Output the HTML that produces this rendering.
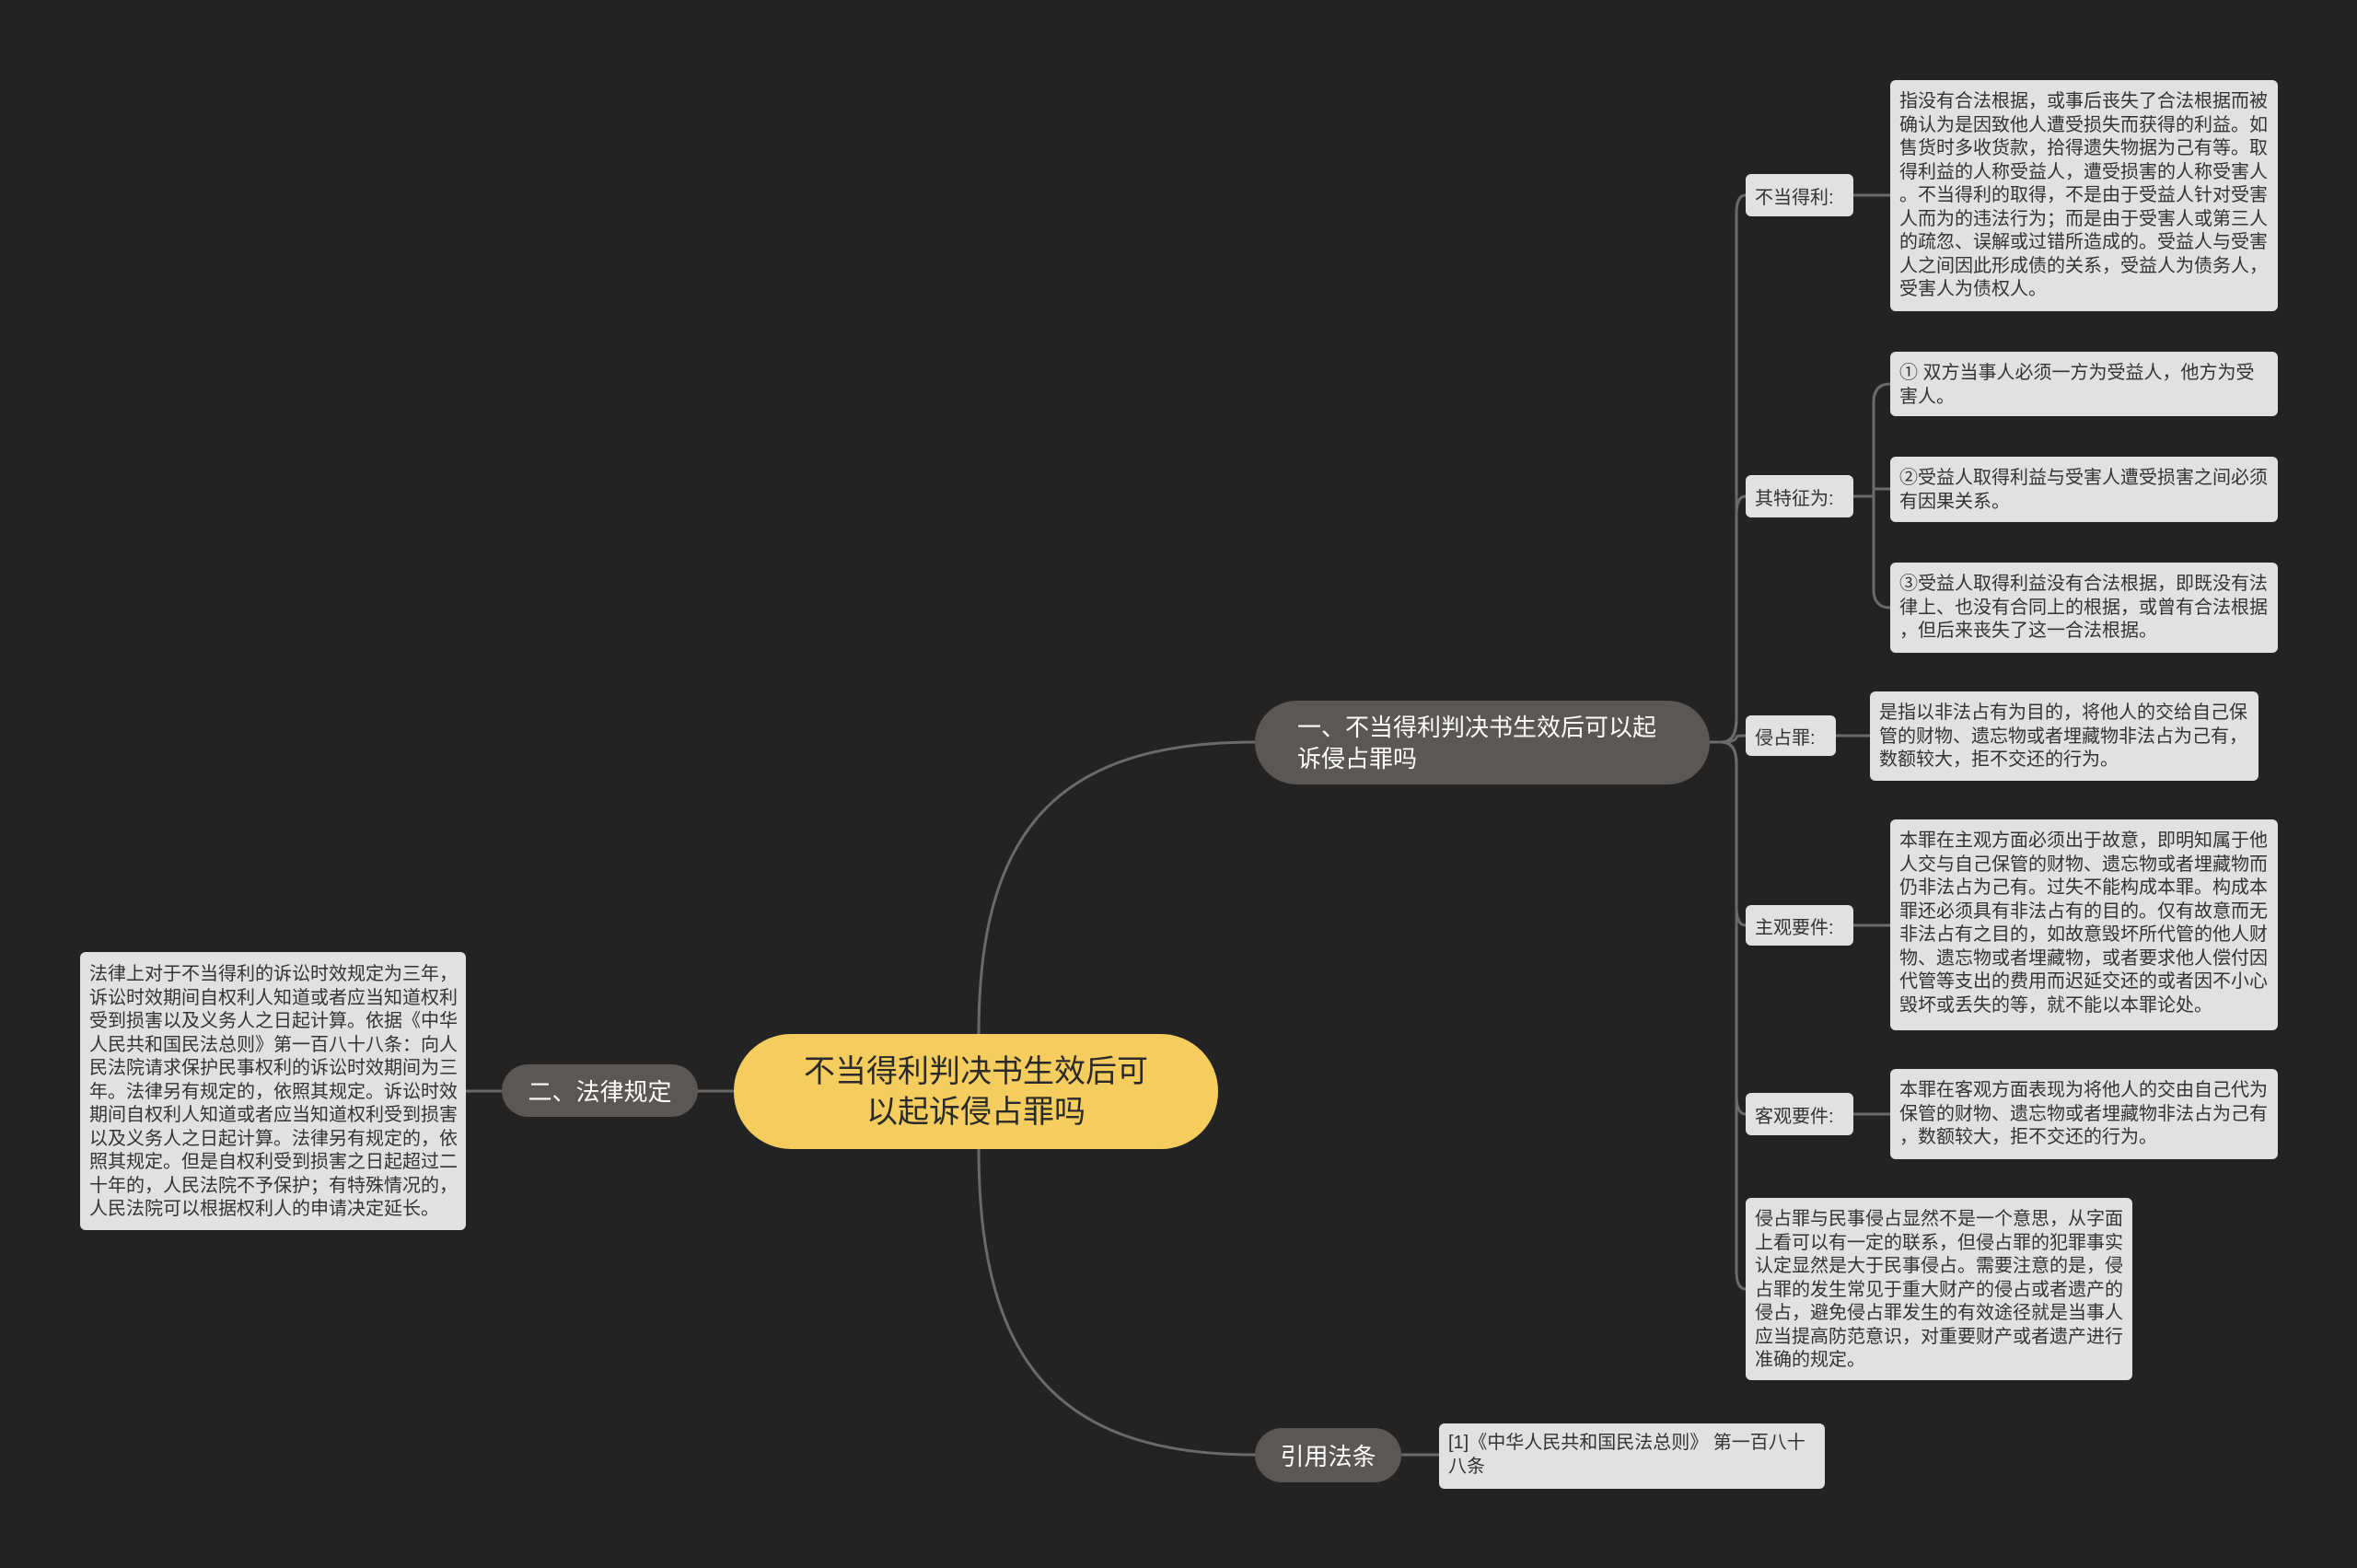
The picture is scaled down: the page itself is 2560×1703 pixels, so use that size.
<!DOCTYPE html>
<html><head><meta charset="utf-8"><style>
body{margin:0;width:2560px;height:1703px;background:#232323;position:relative;overflow:hidden;font-family:"Liberation Sans","Noto Sans CJK SC",sans-serif;}
.b{position:absolute;box-sizing:border-box;}
.leaf{background:#e1e1e1;color:#333;font-size:20px;line-height:25.5px;border-radius:6px;padding:11px 10px 9px;white-space:pre;letter-spacing:0}
.lab{background:#e1e1e1;color:#333;font-size:20px;border-radius:6px;display:flex;align-items:center;padding-left:10px}
.br{background:#5a5754;color:#fff;font-size:26px;border-radius:46px;display:flex;align-items:center}
</style></head><body>
<svg class="b" style="left:0;top:0" width="2560" height="1703">
<g fill="none" stroke="#6a6a6a" stroke-width="3">
<path d="M1063,1123 C1063,900 1150,806 1363,806"/>
<path d="M1063,1248 C1063,1480 1150,1580 1363,1580"/>
<path d="M797,1185 L758,1185"/>
<path d="M545,1185 L506,1185"/>
<path d="M1857,806 L1870,806"/>
<path d="M1870,806 Q1886,806 1886,780 L1886,232 Q1886,212 1896,212"/>
<path d="M1870,806 Q1886,806 1886,780 L1886,559 Q1886,539 1896,539"/>
<path d="M1870,806 Q1886,806 1886,800 Q1886,799 1896,799"/>
<path d="M1870,806 Q1886,806 1886,830 L1886,985 Q1886,1005 1896,1005"/>
<path d="M1870,806 Q1886,806 1886,830 L1886,1190 Q1886,1210 1896,1210"/>
<path d="M1870,806 Q1886,806 1886,830 L1886,1380 Q1886,1400 1896,1400"/>
<path d="M2013,212 L2053,212"/>
<path d="M2013,539 L2035,539"/>
<path d="M2035,539 L2035,437 Q2035,417 2053,417"/>
<path d="M2035,539 L2035,531 Q2035,531 2053,531"/>
<path d="M2035,539 L2035,640 Q2035,660 2053,660"/>
<path d="M1994,799 L2031,799"/>
<path d="M2013,1005 L2053,1005"/>
<path d="M2013,1210 L2053,1210"/>
<path d="M1522,1580 L1563,1580"/>
</g></svg>

<div class="b" style="left:797px;top:1123px;width:526px;height:125px;background:#f5cd5e;border-radius:62px;color:#2a2a2a;font-size:34px;line-height:44px;display:flex;align-items:center;justify-content:center;text-align:center">不当得利判决书生效后可<br>以起诉侵占罪吗</div>

<div class="b br" style="left:1363px;top:761px;width:494px;height:91px;padding-left:46px;line-height:34px">一、不当得利判决书生效后可以起<br>诉侵占罪吗</div>
<div class="b br" style="left:545px;top:1156px;width:213px;height:57px;justify-content:center">二、法律规定</div>
<div class="b br" style="left:1363px;top:1551px;width:159px;height:59px;justify-content:center">引用法条</div>

<div class="b leaf" style="left:87px;top:1034px;width:419px;height:302px;padding-top:12px">法律上对于不当得利的诉讼时效规定为三年，
诉讼时效期间自权利人知道或者应当知道权利
受到损害以及义务人之日起计算。依据《中华
人民共和国民法总则》第一百八十八条：向人
民法院请求保护民事权利的诉讼时效期间为三
年。法律另有规定的，依照其规定。诉讼时效
期间自权利人知道或者应当知道权利受到损害
以及义务人之日起计算。法律另有规定的，依
照其规定。但是自权利受到损害之日起超过二
十年的，人民法院不予保护；有特殊情况的，
人民法院可以根据权利人的申请决定延长。</div>

<div class="b leaf" style="left:1563px;top:1546px;width:419px;height:71px;padding-top:9px">[1]《中华人民共和国民法总则》 第一百八十
八条</div>

<div class="b lab" style="left:1896px;top:189px;width:117px;height:46px">不当得利:</div>
<div class="b lab" style="left:1896px;top:516px;width:117px;height:46px">其特征为:</div>
<div class="b lab" style="left:1896px;top:777px;width:98px;height:44px">侵占罪:</div>
<div class="b lab" style="left:1896px;top:983px;width:117px;height:44px">主观要件:</div>
<div class="b lab" style="left:1896px;top:1187px;width:117px;height:46px">客观要件:</div>

<div class="b leaf" style="left:2053px;top:87px;width:421px;height:251px">指没有合法根据，或事后丧失了合法根据而被
确认为是因致他人遭受损失而获得的利益。如
售货时多收货款，拾得遗失物据为己有等。取
得利益的人称受益人，遭受损害的人称受害人
。不当得利的取得，不是由于受益人针对受害
人而为的违法行为；而是由于受害人或第三人
的疏忽、误解或过错所造成的。受益人与受害
人之间因此形成债的关系，受益人为债务人，
受害人为债权人。</div>
<div class="b leaf" style="left:2053px;top:382px;width:421px;height:70px">① 双方当事人必须一方为受益人，他方为受
害人。</div>
<div class="b leaf" style="left:2053px;top:496px;width:421px;height:71px">②受益人取得利益与受害人遭受损害之间必须
有因果关系。</div>
<div class="b leaf" style="left:2053px;top:611px;width:421px;height:98px">③受益人取得利益没有合法根据，即既没有法
律上、也没有合同上的根据，或曾有合法根据
，但后来丧失了这一合法根据。</div>
<div class="b leaf" style="left:2031px;top:751px;width:422px;height:97px">是指以非法占有为目的，将他人的交给自己保
管的财物、遗忘物或者埋藏物非法占为己有，
数额较大，拒不交还的行为。</div>
<div class="b leaf" style="left:2053px;top:890px;width:421px;height:229px">本罪在主观方面必须出于故意，即明知属于他
人交与自己保管的财物、遗忘物或者埋藏物而
仍非法占为己有。过失不能构成本罪。构成本
罪还必须具有非法占有的目的。仅有故意而无
非法占有之目的，如故意毁坏所代管的他人财
物、遗忘物或者埋藏物，或者要求他人偿付因
代管等支出的费用而迟延交还的或者因不小心
毁坏或丢失的等，就不能以本罪论处。</div>
<div class="b leaf" style="left:2053px;top:1161px;width:421px;height:98px">本罪在客观方面表现为将他人的交由自己代为
保管的财物、遗忘物或者埋藏物非法占为己有
，数额较大，拒不交还的行为。</div>
<div class="b leaf" style="left:1896px;top:1301px;width:420px;height:198px">侵占罪与民事侵占显然不是一个意思，从字面
上看可以有一定的联系，但侵占罪的犯罪事实
认定显然是大于民事侵占。需要注意的是，侵
占罪的发生常见于重大财产的侵占或者遗产的
侵占，避免侵占罪发生的有效途径就是当事人
应当提高防范意识，对重要财产或者遗产进行
准确的规定。</div>
</body></html>
